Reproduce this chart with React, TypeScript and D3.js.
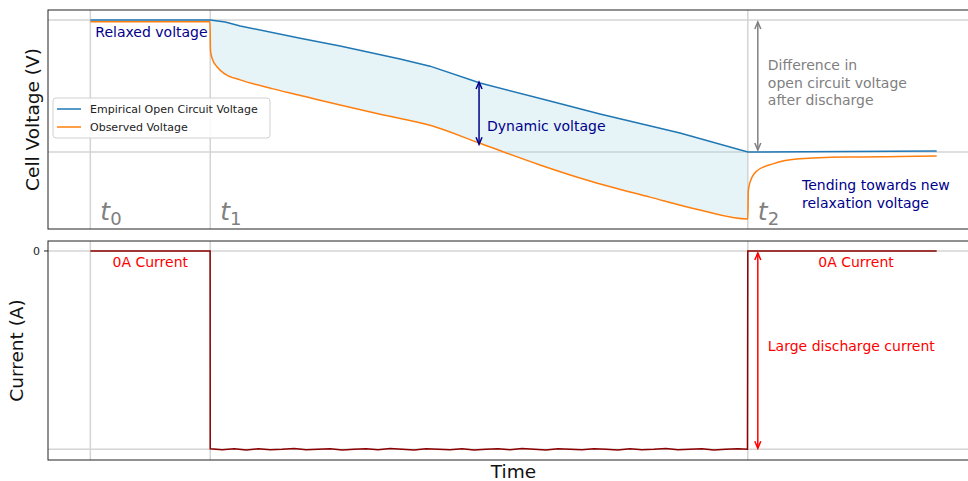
import * as d3 from 'd3';
import React from 'react';

// time in minutes, voltage in V, current in A
const ocvTime = [0, 10, 11.25, 12.5, 17.5, 20.83, 25.83, 28.33, 32.5, 38.33, 42.5, 49.17, 54.83, 70.58];
const ocvVolts = [4.2, 4.2, 4.192, 4.177, 4.131, 4.101, 4.052, 4.025, 3.961, 3.893, 3.844, 3.772, 3.7, 3.704];

const obsTime = [0, 9.98, 10.02, 10.17, 10.58, 11.25, 12.5, 15.25, 18.08, 20.83, 24.17, 28.33, 32.5, 37.5, 41.67, 46.67, 50.83, 54.83,
  54.87, 55, 55.58, 56.92, 59.17, 63.33, 67.5, 70.58];
const obsVolts = [4.193, 4.193, 4.083, 4.053, 4.022, 3.995, 3.973, 3.939, 3.908, 3.878, 3.843, 3.801, 3.733, 3.651, 3.59, 3.529, 3.48, 3.446,
  3.552, 3.583, 3.628, 3.655, 3.674, 3.681, 3.683, 3.685];

const curTime = [0, 9.99, 10, 11, 12, 13, 14, 15, 16, 17, 18, 19, 20, 21, 22, 23, 24, 25, 26, 27, 28, 29, 30, 31, 32, 33, 34, 35, 36, 37, 38,
  39, 40, 41, 42, 43, 44, 45, 46, 47, 48, 49, 50, 51, 52, 53, 54, 54.8, 54.83, 70.58];
const curAmps = [0, 0, -4.99, -5.01, -4.99, -5.02, -4.99, -5.01, -5.0, -4.98, -5.01, -5.0, -4.99, -5.02, -5.0, -4.99, -5.01, -4.98, -5.0,
  -5.02, -4.99, -5.0, -5.01, -4.99, -5.02, -5.0, -4.99, -5.01, -4.98, -5.0, -5.02, -4.99, -5.0, -5.01, -4.99, -5.0, -5.02, -4.99, -5.01,
  -5.0, -4.98, -5.01, -5.0, -4.99, -5.02, -5.0, -4.99, -5.0, 0, 0];

const markTimes = [0, 10, 54.83];
const markLabels = ['0', '1', '2'];

const W = 968, H = 481;
const left = 48, right = 979;
const top1 = 10, bot1 = 229, top2 = 241, bot2 = 460;

const pad = (ext: number[]) => {
  const r = ext[1] - ext[0];
  return [ext[0] - r * 0.05, ext[1] + r * 0.05];
};

export default function App() {
  const x = d3.scaleLinear().domain(pad([0, 70.58])).range([left, right]);
  const yV = d3.scaleLinear().domain(pad(d3.extent([...ocvVolts, ...obsVolts]) as number[])).range([bot1, top1]);
  const yI = d3.scaleLinear().domain(pad([-5.02, 0])).range([bot2, top2]);

  const line = (xs: number[], ys: number[], y: d3.ScaleLinear<number, number>, curve: d3.CurveFactory = d3.curveLinear) =>
    d3.line<number>().x(i => x(xs[i])).y(i => y(ys[i])).curve(curve)(d3.range(xs.length)) as string;

  // fill between the two voltage curves over the discharge
  const interp = (xs: number[], ys: number[], t: number) => {
    const i = Math.min(Math.max(d3.bisectRight(xs, t), 1), xs.length - 1);
    const a = xs[i - 1], b = xs[i];
    return b === a ? ys[i] : ys[i - 1] + (ys[i] - ys[i - 1]) * (t - a) / (b - a);
  };
  const fillT = Array.from(new Set([...ocvTime, ...obsTime])).filter(t => t >= 10 && t <= 54.83).sort((a, b) => a - b);
  const fillPath = d3.area<number>()
    .x(t => x(t))
    .y0(t => yV(interp(obsTime, obsVolts, t)))
    .y1(t => yV(interp(ocvTime, ocvVolts, t)))(fillT) as string;

  const arrow = (xp: number, y0: number, y1: number, color: string, key: string) => (
    <g key={key} stroke={color} strokeWidth={1.5} fill="none">
      <line x1={xp} x2={xp} y1={y0} y2={y1} />
      <polyline points={`${xp - 3},${y0 + 7} ${xp},${y0} ${xp + 3},${y0 + 7}`} />
      <polyline points={`${xp - 3},${y1 - 7} ${xp},${y1} ${xp + 3},${y1 - 7}`} />
    </g>
  );

  const grid = '#d4d4d4';
  const font = 'DejaVu Sans, sans-serif';
  const vStart = ocvVolts[0], vEnd = ocvVolts[12];
  const tDyn = 32.5;

  return (
    <svg width={W} height={H} style={{ position: 'absolute', left: 0, top: 0, background: '#fff' }} fontFamily={font}>
      <defs>
        <clipPath id="c1"><rect x={left} y={top1} width={right - left} height={bot1 - top1} /></clipPath>
        <clipPath id="c2"><rect x={left} y={top2} width={right - left} height={bot2 - top2} /></clipPath>
      </defs>

      {/* top panel */}
      <g clipPath="url(#c1)">
        {markTimes.map(t => <line key={t} x1={x(t)} x2={x(t)} y1={top1} y2={bot1} stroke={grid} strokeWidth={1.5} />)}
        {[vStart, vEnd].map(v => <line key={v} x1={left} x2={right} y1={yV(v)} y2={yV(v)} stroke={grid} strokeWidth={1.5} />)}
        <path d={fillPath} fill="#add8e6" fillOpacity={0.3} />
        <path d={line(ocvTime, ocvVolts, yV)} fill="none" stroke="#1f77b4" strokeWidth={1.5} />
        <path d={line(obsTime, obsVolts, yV, d3.curveMonotoneX)} fill="none" stroke="#ff7f0e" strokeWidth={1.5} />
      </g>
      <rect x={left} y={top1} width={right - left} height={bot1 - top1} fill="none" stroke="#222" strokeWidth={1} />

      {markTimes.map((t, i) => (
        <text key={'t' + i} x={x(t) + 10} y={bot1 - 9} fill="#808080" fontSize={25} fontStyle="italic">
          t<tspan fontSize={18} fontStyle="normal" dy={5}>{markLabels[i]}</tspan>
        </text>
      ))}

      <text x={x(0) + 5} y={37} fill="#00008b" fontSize={14}>Relaxed voltage</text>
      {arrow(x(tDyn) - 1, yV(interp(ocvTime, ocvVolts, tDyn)) - 1, yV(interp(obsTime, obsVolts, tDyn)) + 1, '#00008b', 'a1')}
      <text x={x(tDyn) + 7} y={131} fill="#00008b" fontSize={14}>Dynamic voltage</text>
      {arrow(x(54.83) + 10, yV(vStart) + 2, yV(vEnd) - 2, '#808080', 'a2')}
      {['Difference in', 'open circuit voltage', 'after discharge'].map((s, i) => (
        <text key={s} x={x(54.83) + 20} y={70 + i * 17.5} fill="#808080" fontSize={14}>{s}</text>
      ))}
      {['Tending towards new', 'relaxation voltage'].map((s, i) => (
        <text key={s} x={802} y={190 + i * 17.5} fill="#00008b" fontSize={14}>{s}</text>
      ))}

      {/* legend */}
      <g>
        <rect x={53} y={98} width={217} height={40} rx={3} fill="#fff" fillOpacity={0.85} stroke="#d0d0d0" />
        <line x1={57} x2={81} y1={109} y2={109} stroke="#1f77b4" strokeWidth={1.5} />
        <text x={90} y={113} fontSize={11} fill="#222">Empirical Open Circuit Voltage</text>
        <line x1={57} x2={81} y1={127} y2={127} stroke="#ff7f0e" strokeWidth={1.5} />
        <text x={90} y={131} fontSize={11} fill="#222">Observed Voltage</text>
      </g>

      <text transform={`translate(39,${(top1 + bot1) / 2}) rotate(-90)`} textAnchor="middle" fontSize={18.5} fill="#111">Cell Voltage (V)</text>

      {/* bottom panel */}
      <g clipPath="url(#c2)">
        {markTimes.map(t => <line key={t} x1={x(t)} x2={x(t)} y1={top2} y2={bot2} stroke={grid} strokeWidth={1.5} />)}
        {[0, -5].map(v => <line key={v} x1={left} x2={right} y1={yI(v)} y2={yI(v)} stroke={grid} strokeWidth={1.5} />)}
        <path d={line(curTime, curAmps, yI)} fill="none" stroke="#8b0000" strokeWidth={1.5} />
      </g>
      <rect x={left} y={top2} width={right - left} height={bot2 - top2} fill="none" stroke="#222" strokeWidth={1} />
      <line x1={left - 4} x2={left} y1={yI(0)} y2={yI(0)} stroke="#222" />
      <text x={left - 8} y={yI(0) + 4} textAnchor="end" fontSize={11} fill="#222">0</text>

      <text x={(x(0) + x(10)) / 2} y={267} textAnchor="middle" fill="red" fontSize={14}>0A Current</text>
      <text x={856} y={267} textAnchor="middle" fill="red" fontSize={14}>0A Current</text>
      {arrow(x(54.83) + 10, yI(0) + 2, yI(-5) - 1, 'red', 'a3')}
      <text x={x(54.83) + 20} y={351} fill="red" fontSize={14}>Large discharge current</text>

      <text transform={`translate(23,${(top2 + bot2) / 2}) rotate(-90)`} textAnchor="middle" fontSize={18.5} fill="#111">Current (A)</text>
      <text x={(left + right) / 2} y={478} textAnchor="middle" fontSize={18.5} fill="#111">Time</text>
    </svg>
  );
}
